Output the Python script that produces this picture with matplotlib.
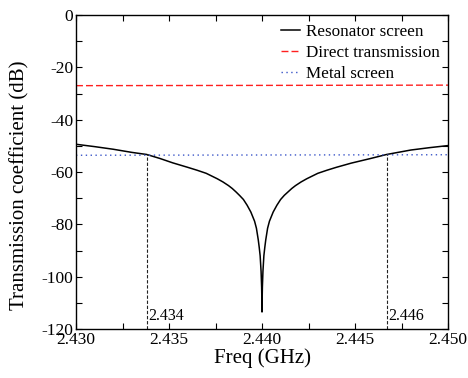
"""Transmission coefficient vs. frequency for resonator screen, metal screen and direct path."""

import matplotlib

matplotlib.use("Agg")
import matplotlib.pyplot as plt
from matplotlib.ticker import MultipleLocator, FormatStrFormatter

plt.rcParams["font.family"] = ["Liberation Serif", "DejaVu Serif"]
plt.rcParams["axes.unicode_minus"] = False

# resonator screen
FREQ = [2.4300, 2.4310, 2.4320, 2.4330, 2.4338, 2.4345, 2.4352, 2.4360, 2.4365,
        2.4370, 2.4376, 2.4379, 2.4382, 2.4384, 2.4386, 2.4388, 2.4390, 2.4392,
        2.4394, 2.4396, 2.4397, 2.4398, 2.43985, 2.4399, 2.43995, 2.43998,
        2.43999, 2.4400,
        2.44001, 2.44002, 2.44005, 2.4401, 2.44015, 2.4402, 2.4403, 2.4404,
        2.4406, 2.4408, 2.4410, 2.4412, 2.4414, 2.4416, 2.4418, 2.4421, 2.4424,
        2.4430, 2.4435, 2.4440, 2.4448, 2.4458, 2.4467, 2.4480, 2.4490, 2.4500]
RESONATOR = [-49.4, -50.3, -51.3, -52.5, -53.3, -54.8, -56.5, -58.2, -59.3,
             -60.5, -62.6, -63.8, -65.2, -66.3, -67.6, -69.0, -70.5, -72.7,
             -75.3, -78.8, -81.5, -86.0, -88.8, -92.0, -98.0, -104.0,
             -108.0, -113.5,
             -108.0, -104.0, -98.0, -92.0, -88.8, -86.0, -81.5, -78.8,
             -75.3, -72.7, -70.5, -68.9, -67.6, -66.3, -65.2, -63.8, -62.6,
             -60.5, -59.3, -58.2, -56.6, -54.9, -53.3, -51.6, -50.7, -49.9]

# flat references: endpoints
REF_FREQ = [2.430, 2.450]
DIRECT = [-27.0, -26.8]
METAL = [-53.6, -53.4]

# crossing markers where the resonator curve meets the metal screen
CROSS_FREQ = [2.4338, 2.4467]
CROSS_DB = [-53.3, -53.3]
CROSS_LABELS = ["2.434", "2.446"]

fig = plt.figure(figsize=(4.68, 3.78), dpi=100)
ax = fig.add_axes([0.1624, 0.1296, 0.7949, 0.8307])

ax.plot(FREQ, RESONATOR, color="black", lw=1.1, label="Resonator screen")
ax.plot(REF_FREQ, DIRECT, color="#ff2020", lw=1.0, ls=(0, (5, 2.2)),
        label="Direct transmission")
ax.plot(REF_FREQ, METAL, color="#3a55c8", lw=1.0, ls=(0, (1, 2.5)),
        label="Metal screen")

for f, db, lab in zip(CROSS_FREQ, CROSS_DB, CROSS_LABELS):
    ax.plot([f, f], [-120, db], color="#222222", lw=0.8, ls=(0, (3, 1.6)))
    ax.text(f + 0.00008, -118.0, lab, fontsize=11.5, ha="left", va="bottom")

ax.set_xlim(2.430, 2.450)
ax.set_ylim(-120, 0)
ax.xaxis.set_major_locator(MultipleLocator(0.005))
ax.xaxis.set_minor_locator(MultipleLocator(0.0025))
ax.xaxis.set_major_formatter(FormatStrFormatter("%.3f"))
ax.yaxis.set_major_locator(MultipleLocator(20))
ax.yaxis.set_minor_locator(MultipleLocator(10))
ax.yaxis.set_major_formatter(FormatStrFormatter("%d"))
ax.tick_params(which="both", direction="in", top=True, right=True,
               labelsize=12.5, pad=2, width=0.8)
ax.tick_params(which="major", length=4)
ax.tick_params(which="minor", length=4)
for spine in ax.spines.values():
    spine.set_linewidth(1.0)

ax.set_xlabel("Freq (GHz)", fontsize=15, labelpad=0)
ax.set_ylabel("Transmission coefficient (dB)", fontsize=15)
ax.yaxis.set_label_coords(-0.124, 0.457)

ax.legend(loc="upper right", frameon=False, fontsize=12.3, handlelength=1.1,
          handletextpad=0.35, labelspacing=0.3, borderaxespad=0.1)

fig.savefig("out.png", dpi=100)
